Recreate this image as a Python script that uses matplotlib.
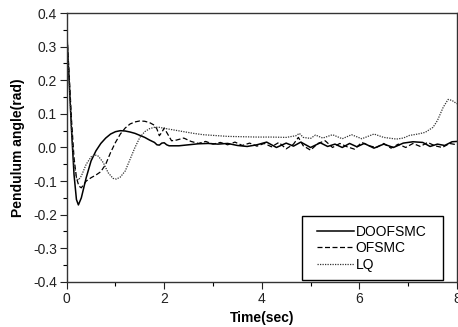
import matplotlib
matplotlib.use("Agg")
import matplotlib.pyplot as plt
from matplotlib.ticker import MultipleLocator
from matplotlib.legend_handler import HandlerLine2D

plt.rcParams['font.family'] = ['Liberation Sans', 'DejaVu Sans']

# DOOFSMC (solid)
t_doofsmc = [0, 0.05, 0.1, 0.15, 0.2, 0.24, 0.3, 0.4, 0.5, 0.6, 0.7, 0.8, 0.9, 1.0,
             1.1, 1.2, 1.3, 1.4, 1.5, 1.6, 1.7, 1.8, 1.85, 1.9, 1.95, 2.0, 2.05,
             2.1, 2.3, 2.5, 2.7, 2.9, 3.1, 3.3, 3.5, 3.7, 3.9, 4.1, 4.3, 4.5, 4.65,
             4.8, 5.0, 5.2, 5.35, 5.5, 5.65, 5.8, 5.95, 6.1, 6.3, 6.5, 6.7, 6.9,
             7.1, 7.3, 7.45, 7.6, 7.75, 7.9, 8.0]
v_doofsmc = [0.35, 0.2, 0.05, -0.08, -0.155, -0.171, -0.15, -0.09, -0.04, -0.01,
             0.012, 0.028, 0.04, 0.047, 0.05, 0.049, 0.046, 0.042, 0.036, 0.03,
             0.022, 0.015, 0.008, 0.007, 0.013, 0.014, 0.008,
             0.005, 0.005, 0.008, 0.011, 0.012, 0.01, 0.012, 0.006, 0.003, 0.008,
             0.016, 0.0, 0.013, 0.004, 0.016, 0.0, 0.014, 0.003, 0.01, 0.0, 0.012,
             0.002, 0.012, -0.002, 0.01, 0.0, 0.013, 0.017, 0.015, 0.003, 0.01,
             0.006, 0.017, 0.018]

# OFSMC (dashed)
t_ofsmc = [0, 0.05, 0.1, 0.15, 0.2, 0.25, 0.3, 0.35, 0.4, 0.5, 0.6, 0.7, 0.8, 0.9,
           1.0, 1.1, 1.2, 1.3, 1.4, 1.5, 1.6, 1.7, 1.8, 1.85, 1.9, 1.95, 2.0,
           2.05, 2.15, 2.25, 2.4, 2.55, 2.7, 2.85, 3.0, 3.15, 3.3, 3.45, 3.6, 3.75,
           3.9, 4.05, 4.2, 4.35, 4.5, 4.65, 4.75, 4.85, 5.0, 5.15, 5.3, 5.45, 5.6,
           5.75, 5.9, 6.05, 6.2, 6.35, 6.5, 6.65, 6.8, 6.95, 7.1, 7.25, 7.4, 7.55,
           7.7, 7.85, 8.0]
v_ofsmc = [0.35, 0.22, 0.08, -0.03, -0.09, -0.115, -0.12, -0.11, -0.1, -0.09,
           -0.082, -0.072, -0.05, -0.015, 0.015, 0.04, 0.058, 0.07, 0.076, 0.079,
           0.078, 0.074, 0.066, 0.055, 0.035, 0.045, 0.058,
           0.045, 0.02, 0.022, 0.028, 0.018, 0.012, 0.018, 0.01, 0.015, 0.008,
           0.016, 0.006, 0.013, 0.004, 0.012, 0.002, 0.015, -0.004, 0.01, 0.03,
           0.005, -0.008, 0.012, 0.02, 0.0, 0.012, 0.002, -0.005, 0.015, 0.005,
           0.0, 0.012, -0.002, 0.01, 0.0, 0.012, 0.003, 0.015, 0.005, 0.0, 0.012,
           0.008]

# LQ (dotted)
t_lq = [0, 0.05, 0.1, 0.15, 0.2, 0.24, 0.3, 0.4, 0.5, 0.58, 0.65, 0.75, 0.85, 0.95,
        1.02, 1.1, 1.2, 1.3, 1.4, 1.5, 1.6, 1.7, 1.8, 1.9, 2.0, 2.2, 2.4, 2.6, 2.8,
        3.0, 3.3, 3.6, 3.9, 4.2, 4.5, 4.7, 4.77, 4.85, 5.0, 5.1, 5.25, 5.45, 5.65,
        5.84, 6.05, 6.3, 6.5, 6.76, 6.9, 7.03, 7.2, 7.35, 7.51, 7.6, 7.72, 7.82,
        7.9, 8.0]
v_lq = [0.35, 0.2, 0.05, -0.05, -0.09, -0.097, -0.085, -0.05, -0.028, -0.022,
        -0.026, -0.045, -0.075, -0.092, -0.094, -0.088, -0.07, -0.035, 0.0, 0.03,
        0.047, 0.056, 0.06, 0.06, 0.057, 0.052, 0.047, 0.042, 0.038,
        0.036, 0.033, 0.032, 0.031, 0.031, 0.03, 0.035, 0.042, 0.03, 0.027,
        0.037, 0.028, 0.038, 0.026, 0.038, 0.026, 0.04, 0.03, 0.025, 0.028,
        0.036, 0.04, 0.045, 0.06, 0.08, 0.12, 0.143, 0.14, 0.13]

series_labels = ['DOOFSMC', 'OFSMC', 'LQ']
x_label = 'Time(sec)'
y_label = 'Pendulum angle(rad)'

fig = plt.figure(figsize=(4.58, 3.27), dpi=100)
ax = fig.add_axes([0.1456, 0.138, 0.852, 0.822])

ax.plot(t_doofsmc, v_doofsmc, color='black', lw=1.1, ls='-', label=series_labels[0])
ax.plot(t_ofsmc, v_ofsmc, color='black', lw=0.9, ls=(0, (4, 2)), label=series_labels[1])
ax.plot(t_lq, v_lq, color='#333333', lw=0.9, ls=(0, (1, 1)), label=series_labels[2])

ax.set_xlim(0, 8)
ax.set_ylim(-0.4, 0.4)
ax.xaxis.set_major_locator(MultipleLocator(2))
ax.xaxis.set_minor_locator(MultipleLocator(1))
ax.yaxis.set_minor_locator(MultipleLocator(0.05))
ax.set_yticks([-0.4, -0.3, -0.2, -0.1, 0.0, 0.1, 0.2, 0.3, 0.4])
ax.set_yticklabels(['-0.4', '-0.3', '-0.2', '-0.1', '0.0', '0.1', '0.2', '0.3', '0.4'])
ax.tick_params(which='major', direction='out', length=5, width=0.8, labelsize=10,
               colors='#222222', top=False, right=False, pad=2)
ax.tick_params(which='minor', direction='out', length=3, width=0.8,
               top=False, right=False)
for s in ax.spines.values():
    s.set_linewidth(1.0)
    s.set_color('#333333')

ax.set_xlabel(x_label, fontsize=10, fontweight='bold', labelpad=4)
ax.set_ylabel(y_label, fontsize=10, fontweight='bold', labelpad=6)

hm = HandlerLine2D(xpad=0.45)
leg = ax.legend(loc='lower left', bbox_to_anchor=(0.603, 0.007, 0.361, 0.234),
                mode='expand', fontsize=10,
                frameon=True, fancybox=False, edgecolor='black', framealpha=1,
                handlelength=3.11, handletextpad=0.15, labelspacing=0.18,
                borderpad=0.6, borderaxespad=0,
                handler_map={l: hm for l in ax.get_lines()})
leg.get_frame().set_linewidth(1.0)

fig.savefig('out.png', dpi=100)
